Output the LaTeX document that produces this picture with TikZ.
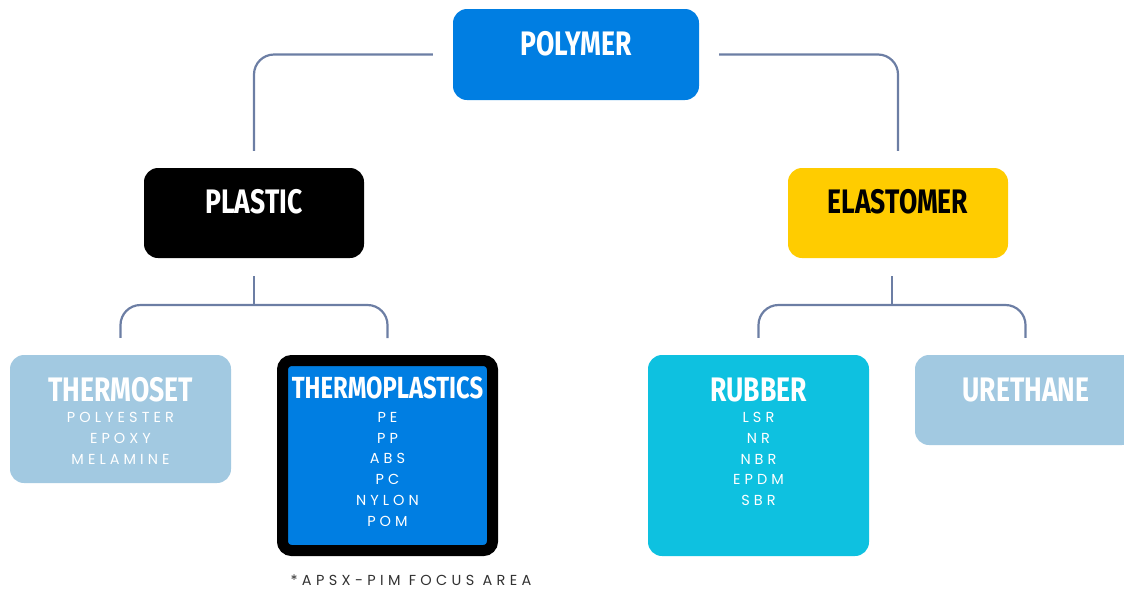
\documentclass[tikz,border=0pt]{standalone}
\usepackage{fontspec}
\setmainfont{Fira Sans}
\newfontfamily\tfont[FakeStretch=0.78]{Fira Sans}
\newfontfamily\sfont[LetterSpace=28]{Poppins}
\newfontfamily\nfont[LetterSpace=30]{Poppins}
\definecolor{cblue}{RGB}{0,126,226}
\definecolor{ccyan}{RGB}{14,193,224}
\definecolor{clight}{RGB}{162,201,225}
\definecolor{cyellow}{RGB}{255,204,0}
\definecolor{cline}{RGB}{108,126,164}
\definecolor{cgray}{RGB}{50,50,50}
\begin{document}
\begin{tikzpicture}[x=1pt,y=-1pt,
  box/.style={rounded corners=14pt,inner sep=0pt,minimum width=221pt},
  title/.style={anchor=base,inner sep=0pt,text=white,font=\tfont\bfseries\fontsize{34}{34}\selectfont},
  items/.style={anchor=north,inner sep=0pt,align=center,text=white,font=\sfont\fontsize{14.5}{20.8}\selectfont},
  conn/.style={draw=cline,line width=2.2pt,rounded corners=20pt}]
\useasboundingbox (0,0) rectangle (1124,590);
% boxes
\node[box,fill=cblue,minimum width=246pt,minimum height=91pt] (polymer) at (576,54.5) {};
\node[box,fill=black,minimum width=220pt,minimum height=90pt] (plastic) at (254,213) {};
\node[box,fill=cyellow,minimum width=220pt,minimum height=90pt] (elastomer) at (898,213) {};
\node[box,fill=clight,minimum height=128pt] (thermoset) at (120.5,419) {};
\node[box,rounded corners=9pt,fill=cblue,draw=black,line width=11pt,minimum width=210pt,minimum height=190pt] (thermo) at (387.5,455.5) {};
\node[box,fill=ccyan,minimum height=201pt] (rubber) at (758.5,455.5) {};
\node[box,fill=clight,minimum height=90pt] (urethane) at (1025.5,400) {};
% titles
\node[title] (tpolymer) at (576,55) {POLYMER};
\node[title] (tplastic) at (254,213) {PLASTIC};
\node[title,text=black] (telast) at (898,213) {ELASTOMER};
\node[title] (ttherm) at (120.5,401) {THERMOSET};
\node[title,font=\tfont\bfseries\fontsize{30.5}{30.5}\selectfont] (tthermo) at (387.5,398.5) {THERMOPLASTICS};
\node[title] (trubber) at (758.5,401) {RUBBER};
\node[title] (turethane) at (1026,401) {URETHANE};
% items
\node[items] (ithermoset) at (120.5,412) {POLYESTER\\EPOXY\\MELAMINE};
\node[items] (ithermo) at (387.5,412) {PE\\PP\\ABS\\PC\\NYLON\\POM};
\node[items] (irubber) at (758.5,412) {LSR\\NR\\NBR\\EPDM\\SBR};
\node[anchor=base,inner sep=0pt,text=cgray,font=\nfont\fontsize{14.5}{14.5}\selectfont] (note) at (411,585.5) {*APSX-PIM FOCUS AREA};
% connectors
\draw[conn] ([xshift=-20pt]polymer.west) -| ([yshift=17pt]plastic.north);
\draw[conn] ([xshift=20pt]polymer.east) -| ([yshift=17pt]elastomer.north);
\coordinate (pj) at (254,305);
\coordinate (ej) at (892,305);
\draw[conn] ([yshift=-18pt]plastic.south) -- (pj);
\path (ej |- elastomer.south) ++(0,18) coordinate (es);
\draw[conn] (es) -- (ej);
\draw[conn] ([yshift=17pt]thermoset.north) |- (pj) -| ([yshift=17pt]thermo.north);
\draw[conn] ([yshift=17pt]rubber.north) |- (ej) -| ([yshift=17pt]urethane.north);
\end{tikzpicture}
\end{document}
